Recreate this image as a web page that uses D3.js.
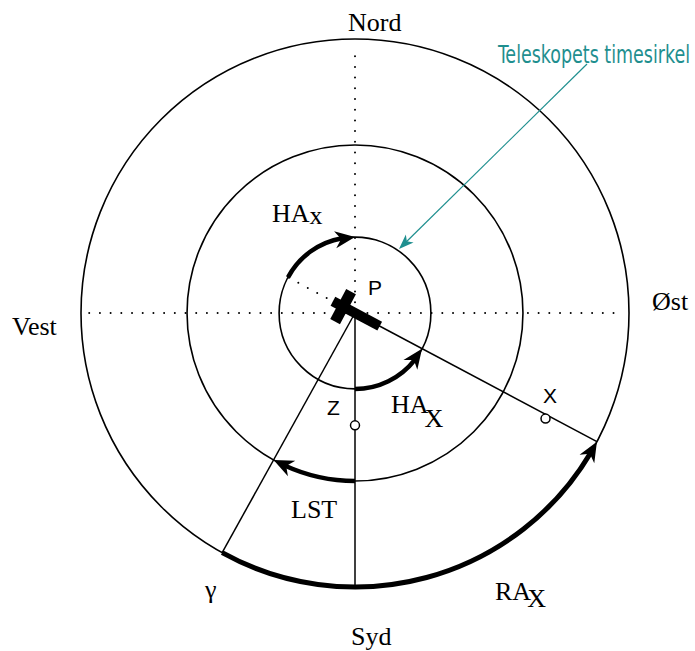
<!DOCTYPE html>
<html><head><meta charset="utf-8">
<script src="https://cdn.jsdelivr.net/npm/d3@7"></script>
<style>html,body{margin:0;padding:0;background:#fff}svg{display:block}</style>
</head><body>
<script>
// ---- data (fractions of outer radius, angles in degrees from north, clockwise) ----
const circleRadii = [0.277, 0.613, 1.0];
const hourLineAngle = 118;     // telescope hour circle towards X
const gammaAngle = 209;        // vernal equinox direction
const southAngle = 180;
const northAngle = 360;
const arcs = [
  {name: "HAx",  r: 0.277, a0: 298, a1: 360, w: 4.5},
  {name: "HAX",  r: 0.277, a0: 180, a1: 118, w: 4.5},
  {name: "LST",  r: 0.613, a0: 180, a1: 209, w: 4.5},
  {name: "RAX",  r: 1.0,   a0: 209, a1: 118, w: 5}
];
const points = [ {name: "Z", r: 0.41, a: 180}, {name: "X", r: 0.795, a: 119} ];

const W = 695, H = 651, cx = 355, cy = 313, R = 274;
const rScale = d3.scaleLinear().domain([0, 1]).range([0, R]);
const aScale = d3.scaleLinear().domain([0, 360]).range([0, 2 * Math.PI]);
function polar(r, a) { const t = aScale(a); return [cx + rScale(r) * Math.sin(t), cy - rScale(r) * Math.cos(t)]; }

const svg = d3.select("body").append("svg").attr("width", W).attr("height", H);

// dotted axes
const dot = {stroke: "#000", "stroke-width": 2, "stroke-dasharray": "0,10.7", "stroke-linecap": "round"};
function line(p0, p1, attrs) {
  const l = svg.append("line").attr("x1", p0[0]).attr("y1", p0[1]).attr("x2", p1[0]).attr("y2", p1[1]);
  Object.entries(attrs).forEach(([k, v]) => l.attr(k, v));
  return l;
}
line(polar(0.97, 270), polar(0.97, 90), dot);
line([cx, cy], polar(0.97, 0), dot);
line([cx, cy], polar(0.277, hourLineAngle + 180), dot);

// circles
svg.selectAll("circle.ring").data(circleRadii).join("circle").attr("class", "ring")
  .attr("cx", cx).attr("cy", cy).attr("r", d => rScale(d))
  .attr("fill", "none").attr("stroke", "#000").attr("stroke-width", 1.6);

// solid lines
const solid = {stroke: "#000", "stroke-width": 1.5};
line([cx, cy], polar(1, southAngle), solid);
line([cx, cy], polar(1, hourLineAngle), solid);
line([cx, cy], polar(1, gammaAngle), solid);

// thick arcs with arrowheads
arcs.forEach(d => {
  const r = rScale(d.r);
  const dir = d.a1 > d.a0 ? 1 : -1;
  const back = 13 / r * 180 / Math.PI; // shorten shaft
  const aEnd = d.a1 - dir * back;
  const p = d3.path();
  const s0 = aScale(d.a0) - Math.PI / 2, s1 = aScale(aEnd) - Math.PI / 2;
  p.arc(cx, cy, r, s0, s1, dir < 0);
  svg.append("path").attr("d", p.toString()).attr("fill", "none")
    .attr("stroke", "#000").attr("stroke-width", d.w);
  const tip = polar(d.r, d.a1);
  const t = aScale(d.a1);
  const tang = [Math.cos(t) * dir, Math.sin(t) * dir];
  const ang = Math.atan2(tang[1], tang[0]) * 180 / Math.PI - dir * (10 / r) * 180 / Math.PI;
  svg.append("path").attr("d", "M0,0 L-20,-8.5 L-14,0 L-20,8.5 Z")
    .attr("transform", `translate(${tip[0]},${tip[1]}) rotate(${ang})`).attr("fill", "#000");
});

// telescope cross
const rot = hourLineAngle - 90;
const tel = svg.append("g").attr("transform", `translate(${cx},${cy}) rotate(${rot})`);
tel.append("rect").attr("x", -25).attr("y", -5).attr("width", 53).attr("height", 10).attr("fill", "#000");
tel.append("rect").attr("x", -19).attr("y", -17).attr("width", 11).attr("height", 34).attr("fill", "#000");

// small circles Z and X
points.forEach(d => {
  const p = polar(d.r, d.a);
  svg.append("circle").attr("cx", p[0]).attr("cy", p[1]).attr("r", 4.5)
    .attr("fill", "#fff").attr("stroke", "#000").attr("stroke-width", 1.5);
});

// labels
const serif = "'Liberation Serif','Times New Roman',serif";
const sans = "'Liberation Sans',Arial,sans-serif";
function text(x, y, s, font, size) {
  return svg.append("text").attr("x", x).attr("y", y).attr("font-family", font)
    .attr("font-size", size).attr("fill", "#000").text(s);
}
text(348, 31, "Nord", serif, 26);
text(12, 335, "Vest", serif, 26);
text(652, 310, "Øst", serif, 26);
text(351, 645, "Syd", serif, 26);
text(205, 598, "γ", serif, 26);
text(291, 518, "LST", serif, 26);
const h1 = text(272, 222, "HA", serif, 26); h1.append("tspan").attr("dy", 2).text("x");
const h2 = text(391, 413, "HA", serif, 26); h2.append("tspan").attr("dx", -4).attr("dy", 14).text("X");
const h3 = text(495, 600, "RA", serif, 26); h3.append("tspan").attr("dx", -4).attr("dy", 7).text("X");
text(368, 295, "P", sans, 21);
text(327, 415, "Z", sans, 21);
text(543, 403, "X", sans, 21);

// teal annotation
const teal = "#1f8f8f";
const a0 = [587, 64], a1 = [399, 249];
const ang = Math.atan2(a1[1] - a0[1], a1[0] - a0[0]);
line(a0, [a1[0] - 10 * Math.cos(ang), a1[1] - 10 * Math.sin(ang)], {stroke: teal, "stroke-width": 1.2});
svg.append("path").attr("d", "M0,0 L-15,-5.5 L-11,0 L-15,5.5 Z")
  .attr("transform", `translate(${a1[0]},${a1[1]}) rotate(${ang * 180 / Math.PI})`).attr("fill", teal);
svg.append("text").attr("x", 498).attr("y", 63)
  .attr("font-family", "'DejaVu Sans Condensed','Liberation Sans Narrow','Roboto',sans-serif")
  .attr("font-size", 24).attr("fill", teal).attr("textLength", 192).attr("lengthAdjust", "spacingAndGlyphs")
  .text("Teleskopets timesirkel");
</script>
</body></html>
